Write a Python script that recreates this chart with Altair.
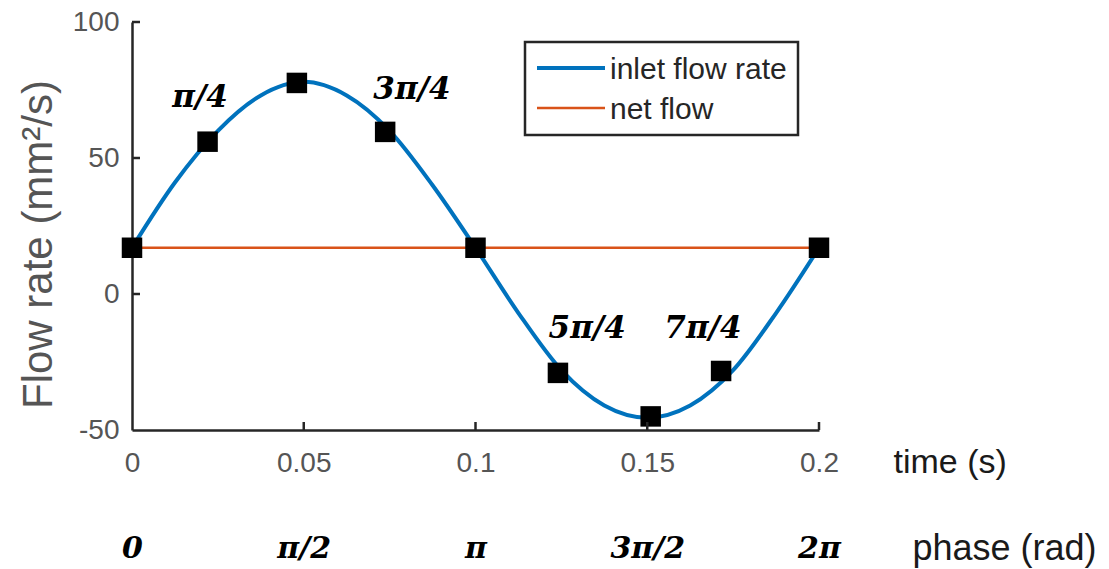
import altair as alt
import pandas as pd

# ---- data ----
curve_t = [0, 0.0125, 0.025, 0.0375, 0.05, 0.0625, 0.075, 0.0875, 0.1,
           0.1125, 0.125, 0.1375, 0.15, 0.1625, 0.175, 0.1875, 0.2]
curve_v = [17, 41, 60, 73, 78, 73, 60, 40, 17,
           -7, -28, -41, -45.5, -41, -28, -7, 17]

net_t = [0, 0.2]
net_v = [17, 17]

marker_t = [0, 0.022, 0.048, 0.0737, 0.1, 0.124, 0.151, 0.1715, 0.2]
marker_v = [17, 56, 77.6, 59.6, 17, -29, -45, -28.3, 17]

ann_text = ["π/4", "3π/4", "5π/4", "7π/4"]
ann_t = [0.0198, 0.0815, 0.1325, 0.1662]
ann_v = [72, 75, -13, -13]

time_ticks = [0, 0.05, 0.1, 0.15, 0.2]
flow_ticks = [-50, 0, 50, 100]
phase_labels = ["0", "π/2", "π", "3π/2", "2π"]
phase_t = [0, 0.05, 0.1, 0.15, 0.2]

series_names = ["inlet flow rate", "net flow"]
series_colors = ["#0072BD", "#D95319"]

W, H = 687, 408
SANS = "Liberation Sans, Arial, sans-serif"
SERIF = "DejaVu Serif, serif"
AXIS_COL = "#262626"
LABEL_COL = "#555555"

xs = alt.Scale(domain=[0, 0.2], nice=False, zero=False)
ys = alt.Scale(domain=[-50, 100], nice=False, zero=False)

curve_df = pd.DataFrame({"t": curve_t, "v": curve_v})
net_df = pd.DataFrame({"t": net_t, "v": net_v})
mk_df = pd.DataFrame({"t": marker_t, "v": marker_v})
ann_df = pd.DataFrame({"t": ann_t, "v": ann_v, "lab": ann_text})
xt_df = pd.DataFrame({"t": time_ticks[1:]})
yt_df = pd.DataFrame({"v": flow_ticks[1:]})
one = pd.DataFrame({"a": [0]})

curve = alt.Chart(curve_df).mark_line(
    color=series_colors[0], strokeWidth=4, interpolate="monotone"
).encode(
    x=alt.X("t:Q", scale=xs, axis=alt.Axis(
        values=time_ticks, format="~g", ticks=False, grid=False,
        domainColor=AXIS_COL, domainWidth=2.5, labelFlush=False,
        labelFont=SANS, labelFontSize=28, labelColor=LABEL_COL, labelPadding=33,
        labelBaseline="middle",
        title="time (s)", titleFont=SANS, titleFontSize=34, titleFontWeight="normal",
        titleColor="#1a1a1a", titleX=761, titleY=32, titleAlign="left",
        titleBaseline="middle", titleAnchor="start")),
    y=alt.Y("v:Q", scale=ys, axis=alt.Axis(
        values=flow_ticks, labelExpr="toString(datum.value)", ticks=False, grid=False,
        domainColor=AXIS_COL, domainWidth=2.5, labelFlush=False,
        labelFont=SANS, labelFontSize=28, labelColor=LABEL_COL, labelPadding=13,
        title="Flow rate (mm²/s)", titleFont=SANS, titleFontSize=42,
        titleFontWeight="normal", titleColor=LABEL_COL,
        titleX=-94, titleY=222, titleAngle=270, titleAlign="center",
        titleBaseline="middle", titleAnchor="middle")),
)

net = alt.Chart(net_df).mark_line(color=series_colors[1], strokeWidth=2.5).encode(
    x=alt.X("t:Q", scale=xs), y=alt.Y("v:Q", scale=ys))

markers = alt.Chart(mk_df).mark_point(
    shape="square", filled=True, color="black", opacity=1, size=420
).encode(x=alt.X("t:Q", scale=xs), y=alt.Y("v:Q", scale=ys))

ann = alt.Chart(ann_df).mark_text(
    font=SERIF, fontSize=31, fontStyle="italic", fontWeight="bold", color="black",
    align="center", baseline="middle"
).encode(x=alt.X("t:Q", scale=xs), y=alt.Y("v:Q", scale=ys), text="lab:N")

xticks = alt.Chart(xt_df).mark_rule(color=AXIS_COL, strokeWidth=2.5).encode(
    x=alt.X("t:Q", scale=xs), y=alt.value(H), y2=alt.value(H - 8))
yticks = alt.Chart(yt_df).mark_rule(color=AXIS_COL, strokeWidth=2.5).encode(
    y=alt.Y("v:Q", scale=ys), x=alt.value(0), x2=alt.value(8))

# legend box (manual, MATLAB style)
leg_box = alt.Chart(one).mark_rect(fill="white", stroke=AXIS_COL, strokeWidth=2.5).encode(
    x=alt.value(393), x2=alt.value(666), y=alt.value(20), y2=alt.value(113))
leg_l1 = alt.Chart(one).mark_rule(color=series_colors[0], strokeWidth=4).encode(
    x=alt.value(405), x2=alt.value(473), y=alt.value(46))
leg_l2 = alt.Chart(one).mark_rule(color=series_colors[1], strokeWidth=2.5).encode(
    x=alt.value(405), x2=alt.value(473), y=alt.value(86))
leg_t1 = alt.Chart(one).mark_text(font=SANS, fontSize=30, color=AXIS_COL, align="left",
                                  baseline="middle", text=series_names[0]).encode(
    x=alt.value(478), y=alt.value(48))
leg_t2 = alt.Chart(one).mark_text(font=SANS, fontSize=30, color=AXIS_COL, align="left",
                                  baseline="middle", text=series_names[1]).encode(
    x=alt.value(478), y=alt.value(88))

main = alt.layer(curve, net, markers, ann, xticks, yticks,
                 leg_box, leg_l1, leg_l2, leg_t1, leg_t2)

lab_expr = "[" + ",".join("'%s'" % s for s in phase_labels) + "][indexof([" + \
    ",".join(str(v) for v in phase_t) + "], datum.value)]"

phase = alt.Chart(pd.DataFrame({"t": phase_t})).mark_point(opacity=0).encode(
    x=alt.X("t:Q", scale=xs, axis=alt.Axis(
        orient="bottom", offset=116, values=phase_t, labelExpr=lab_expr,
        domain=False, ticks=False, grid=False,
        labelFont=SERIF, labelFontSize=30, labelFontStyle="italic",
        labelFontWeight="bold", labelColor="black", labelPadding=2,
        labelBaseline="middle", labelFlush=False, labelOverlap=False,
        title="phase (rad)", titleFont=SANS, titleFontSize=36, titleFontWeight="normal",
        titleColor="#1a1a1a", titleX=780, titleY=2, titleAlign="left",
        titleBaseline="middle", titleAnchor="start")))

chart = alt.layer(main, phase).resolve_scale(x="independent").properties(
    width=W, height=H,
    padding={"left": 132, "top": 22, "right": 290, "bottom": 139},
    autosize=alt.AutoSizeParams(type="none"),
    background="white",
).configure_view(stroke=None)

chart.save("out.html", embed_options={"renderer": "svg", "actions": False})
